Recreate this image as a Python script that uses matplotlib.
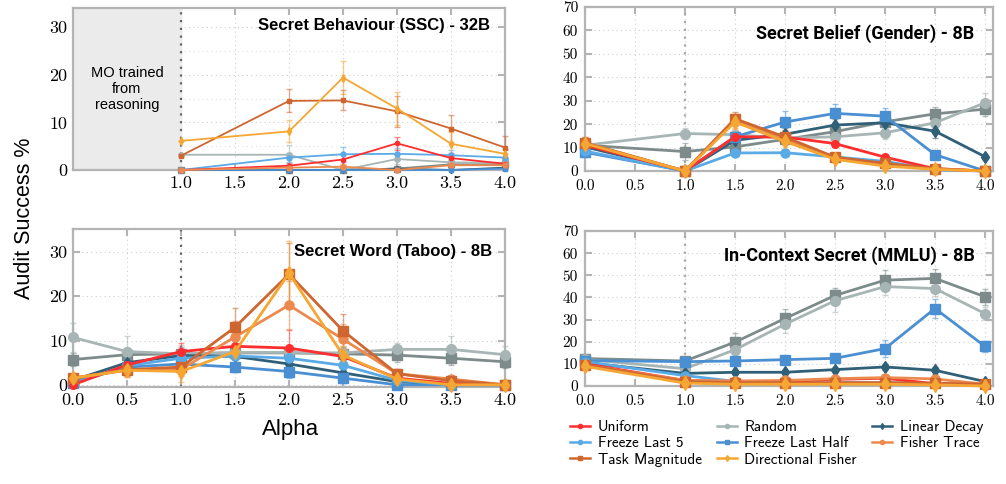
import matplotlib
matplotlib.use("Agg")
import matplotlib.pyplot as plt
from matplotlib.colors import to_rgba
from matplotlib.lines import Line2D

# draw order (back to front); "Unlisted" is the dark-gray square series that has no legend entry
METHODS = ["Unlisted", "Random", "Linear Decay", "Freeze Last Half", "Freeze Last 5",
           "Uniform", "Fisher Trace", "Task Magnitude", "Directional Fisher"]
COLORS = {"Uniform": "#ff2d2d", "Random": "#a7b6b4", "Linear Decay": "#305f78",
          "Freeze Last 5": "#5aaae6", "Freeze Last Half": "#4a8fd2", "Fisher Trace": "#ec8a4e",
          "Task Magnitude": "#cf6630", "Directional Fisher": "#f5a633", "Unlisted": "#7d8b8b"}
MARKERS = {"Uniform": "o", "Random": "o", "Linear Decay": "d", "Freeze Last 5": "o",
           "Freeze Last Half": "s", "Fisher Trace": "o", "Task Magnitude": "s",
           "Directional Fisher": "d", "Unlisted": "s"}
MSIZE = {"Uniform": 5.5, "Random": 7, "Linear Decay": 6, "Freeze Last 5": 6.5,
         "Freeze Last Half": 6.5, "Fisher Trace": 6.5, "Task Magnitude": 6.5,
         "Directional Fisher": 7.5, "Unlisted": 7}
LEGEND_ORDER = ["Uniform", "Freeze Last 5", "Task Magnitude", "Random", "Freeze Last Half",
                "Directional Fisher", "Linear Decay", "Fisher Trace"]

# ---- Secret Behaviour (SSC) - 32B ----
ssc_x = [1.0, 2.0, 2.5, 3.0, 3.5, 4.0]
ssc_vals = {
    "Unlisted":           [0.0, 0.0, 0.0, 0.3, 1.2, 1.2],
    "Random":             [3.2, 3.2, 0.0, 2.3, 1.6, 1.5],
    "Linear Decay":       [0.0, 0.0, 0.0, 0.3, 0.0, 0.5],
    "Freeze Last Half":   [0.0, 0.0, 0.0, 0.0, 0.0, 0.3],
    "Freeze Last 5":      [0.0, 2.6, 3.3, 3.4, 3.1, 2.6],
    "Uniform":            [0.0, 0.9, 2.2, 5.6, 2.5, 1.3],
    "Fisher Trace":       [0.0, 0.5, 0.7, 0.0, 1.0, 1.0],
    "Task Magnitude":     [3.0, 14.5, 14.6, 12.3, 8.7, 4.7],
    "Directional Fisher": [6.1, 8.1, 19.4, 12.9, 5.5, 3.4],
}
ssc_err = {
    "Unlisted":           [0, 0, 0, 0.3, 0.5, 0.5],
    "Random":             [0, 2.0, 0, 1.0, 0.8, 0.8],
    "Linear Decay":       [0, 0, 0, 0.3, 0, 0.3],
    "Freeze Last Half":   [0, 0, 0, 0, 0, 0.3],
    "Freeze Last 5":      [0, 1.0, 1.6, 1.2, 1.0, 0.8],
    "Uniform":            [0, 0.5, 1.2, 1.3, 1.0, 0.8],
    "Fisher Trace":       [0, 0.4, 0.6, 0.3, 0.6, 0.6],
    "Task Magnitude":     [0, 2.4, 2.1, 3.2, 2.8, 2.5],
    "Directional Fisher": [0, 2.3, 3.4, 3.4, 2.5, 1.0],
}

# ---- Secret Belief (Gender) - 8B ----
gender_x = [0.0, 1.0, 1.5, 2.0, 2.5, 3.0, 3.5, 4.0]
gender_vals = {
    "Unlisted":           [11.0, 8.3, 10.3, 13.5, 16.8, 21.0, 24.4, 26.4],
    "Random":             [11.0, 16.0, 15.5, 14.0, 14.6, 16.3, 20.6, 29.1],
    "Linear Decay":       [10.3, 0.0, 13.1, 15.7, 19.6, 20.6, 17.0, 6.1],
    "Freeze Last Half":   [8.0, 0.0, 14.6, 20.9, 24.6, 23.4, 7.0, 0.0],
    "Freeze Last 5":      [8.5, 0.0, 7.7, 7.8, 6.0, 4.1, 0.5, 0.0],
    "Uniform":            [11.0, 0.0, 14.6, 14.5, 11.7, 5.9, 1.0, 0.0],
    "Fisher Trace":       [12.0, 0.0, 21.5, 13.5, 5.5, 2.8, 0.8, 0.0],
    "Task Magnitude":     [12.0, 0.0, 22.3, 14.5, 5.9, 3.3, 1.0, 0.0],
    "Directional Fisher": [11.7, 0.0, 20.9, 12.6, 5.0, 2.1, 0.7, 0.0],
}
gender_err = {
    "Unlisted":           [2, 3.5, 2, 2, 2, 2, 3, 3],
    "Random":             [2, 2.5, 2, 1.5, 2, 2.5, 2.5, 4],
    "Linear Decay":       [2, 0, 2, 2.5, 2.5, 2, 3, 1],
    "Freeze Last Half":   [2, 0, 2, 4.5, 4, 3.5, 1.5, 0],
    "Freeze Last 5":      [2, 0, 1.5, 1.5, 1.5, 1, 0.5, 0],
    "Uniform":            [2, 0, 2, 3, 1.5, 1, 0.5, 0],
    "Fisher Trace":       [2.5, 0, 3, 2.5, 1, 1, 0.5, 0],
    "Task Magnitude":     [2.5, 0, 3, 2.5, 1, 1, 0.5, 0],
    "Directional Fisher": [2.5, 0, 3, 2.5, 1, 1, 0.5, 0],
}

# ---- Secret Word (Taboo) - 8B ----
taboo_x = [0.0, 0.5, 1.0, 1.5, 2.0, 2.5, 3.0, 3.5, 4.0]
taboo_vals = {
    "Unlisted":           [5.7, 6.8, 7.0, 7.2, 7.2, 7.0, 6.7, 6.0, 5.2],
    "Random":             [10.7, 7.5, 7.0, 7.3, 7.3, 7.2, 8.0, 8.0, 6.8],
    "Linear Decay":       [1.0, 5.0, 6.6, 6.4, 4.7, 2.7, 0.7, 0.0, 0.0],
    "Freeze Last Half":   [0.5, 4.0, 4.7, 4.0, 3.0, 1.5, 0.0, 0.0, 0.0],
    "Freeze Last 5":      [0.3, 4.3, 6.0, 6.5, 6.0, 4.4, 1.0, 0.0, 0.0],
    "Uniform":            [0.0, 4.5, 7.5, 8.7, 8.3, 6.4, 1.5, 0.3, 0.0],
    "Fisher Trace":       [1.5, 3.3, 3.5, 10.8, 18.0, 10.3, 2.5, 1.3, 0.0],
    "Task Magnitude":     [1.5, 3.4, 4.0, 13.0, 25.0, 12.2, 2.5, 0.9, 0.0],
    "Directional Fisher": [1.5, 3.3, 3.0, 7.5, 25.2, 6.7, 1.3, 0.0, 0.0],
}
taboo_err = {
    "Unlisted":           [1.5, 1.5, 1.5, 1.5, 1.5, 1.5, 1.5, 1.5, 1.5],
    "Random":             [3.3, 3.5, 2, 1.5, 1.5, 1.5, 1.5, 3, 2],
    "Linear Decay":       [0.5, 1, 1.5, 1.5, 1.5, 1, 0.5, 0, 0],
    "Freeze Last Half":   [0.5, 1, 1, 1, 1.5, 1, 0, 0, 0],
    "Freeze Last 5":      [0.5, 1, 1.5, 1.5, 1.5, 1, 0.5, 0, 0],
    "Uniform":            [0.3, 1, 2, 1.5, 4, 1.5, 0.5, 0.3, 0],
    "Fisher Trace":       [1, 1.5, 1.5, 3.5, 5.5, 3.5, 1, 0.5, 0],
    "Task Magnitude":     [1, 1.5, 1.5, 4.3, 7, 3.8, 1, 0.5, 0],
    "Directional Fisher": [1, 1.5, 2.3, 3, 7.3, 2, 1, 0, 0],
}

# ---- In-Context Secret (MMLU) - 8B ----
mmlu_x = [0.0, 1.0, 1.5, 2.0, 2.5, 3.0, 3.5, 4.0]
mmlu_vals = {
    "Unlisted":           [12.4, 11.3, 19.8, 30.5, 40.9, 47.8, 48.6, 40.3],
    "Random":             [12.0, 7.8, 16.4, 27.9, 38.5, 44.9, 44.0, 32.7],
    "Linear Decay":       [10.5, 5.7, 6.2, 6.2, 7.4, 8.6, 7.1, 2.0],
    "Freeze Last Half":   [11.5, 11.0, 11.3, 11.9, 12.5, 16.9, 35.0, 17.9],
    "Freeze Last 5":      [11.0, 4.7, 2.1, 1.5, 1.5, 1.5, 1.0, 0.5],
    "Uniform":            [10.0, 2.5, 2.0, 2.0, 3.0, 3.5, 1.0, 0.5],
    "Fisher Trace":       [9.5, 2.5, 2.3, 2.5, 3.3, 3.8, 3.2, 0.8],
    "Task Magnitude":     [9.5, 2.0, 1.5, 1.5, 1.5, 1.5, 1.3, 0.8],
    "Directional Fisher": [8.9, 1.3, 0.8, 0.8, 0.8, 0.8, 0.5, 0.0],
}
mmlu_err = {
    "Unlisted":           [2, 1.5, 4.3, 4.2, 3.5, 4.5, 4.3, 3.5],
    "Random":             [2, 1.5, 2.5, 4, 5, 4, 3.5, 3],
    "Linear Decay":       [1, 1, 1, 1, 1, 1.5, 1.5, 0.5],
    "Freeze Last Half":   [1.5, 1.5, 1.5, 1.5, 1.5, 4, 4.5, 2.5],
    "Freeze Last 5":      [1, 1, 0.8, 0.5, 0.5, 0.5, 0.5, 0.5],
    "Uniform":            [1, 0.8, 0.8, 0.8, 0.8, 0.8, 0.5, 0.5],
    "Fisher Trace":       [1, 0.8, 0.8, 0.8, 0.8, 1, 1, 0.5],
    "Task Magnitude":     [1, 0.8, 0.5, 0.5, 0.5, 0.5, 0.5, 0.5],
    "Directional Fisher": [1, 0.5, 0.5, 0.5, 0.5, 0.5, 0.5, 0],
}

FRAME = "#b4b4b4"; W, H = 1006, 484

def px_axes(fig, l, t, r, b):
    return fig.add_axes([l / W, 1 - b / H, (r - l) / W, (b - t) / H])

def style(ax, xlim, ylim, xt, yt, fs, vcol, xpad=4, ypad=4):
    ax.set_xlim(*xlim); ax.set_ylim(*ylim)
    ax.set_xticks(xt); ax.set_yticks(yt)
    ax.set_xticklabels([f"{v:.1f}" for v in xt]); ax.set_yticklabels([f"{v:g}" for v in yt])
    for s in ax.spines.values(): s.set_color(FRAME); s.set_linewidth(1.6)
    ax.tick_params(direction="in", top=True, right=True, length=5, width=1.5, color=FRAME,
                   labelsize=fs, labelfontfamily="cmr10")
    ax.tick_params(axis="x", pad=xpad); ax.tick_params(axis="y", pad=ypad)
    ax.grid(True, ls=(0, (1, 3)), color="#cfcfcf", lw=0.8)
    ax.set_axisbelow(True)
    ax.axvline(1.0, color=vcol, ls=(0, (1, 2.5)), lw=1.6, zorder=2)

def draw(ax, x, vals, errs, lw, ms_scale, cap):
    for m in METHODS:
        if m not in vals: continue
        c = COLORS[m]; v = vals[m]; e = errs[m]
        lo = [min(ei, vi - ax.get_ylim()[0]) for ei, vi in zip(e, v)]
        ax.errorbar(x, v, yerr=[lo, e], color=c, lw=lw, marker=MARKERS[m], ms=MSIZE[m] * ms_scale,
                    mec=c, ecolor=to_rgba(c, 0.55), elinewidth=1.0, capsize=cap, capthick=1.0,
                    clip_on=False, zorder=3)

fig = plt.figure(figsize=(W / 100, H / 100), dpi=100)

# top-left
ax = px_axes(fig, 73, 8, 505, 170)
style(ax, (0, 4.0), (0, 34), [1.0, 1.5, 2.0, 2.5, 3.0, 3.5, 4.0], [0, 10, 20, 30], 13, "#666666")
ax.set_yticks([5, 15, 25], minor=True); ax.tick_params(which="minor", length=0)
ax.grid(True, which="minor", ls=(0, (1, 3)), color="#e0e0e0", lw=0.8)
ax.axvspan(0, 1.0, color="#ebebeb", zorder=1)
ax.text(0.5, 17, "MO trained\nfrom\nreasoning", ha="center", va="center", fontsize=10.5,
        family="Liberation Sans", linespacing=1.2, zorder=4)
draw(ax, ssc_x, ssc_vals, ssc_err, 1.3, 0.55, 2)
ax.text(0.965, 0.89, "Secret Behaviour (SSC) - 32B", transform=ax.transAxes, ha="right", va="center",
        fontsize=12, fontweight="bold", family="Liberation Sans", zorder=5)

# top-right
ax = px_axes(fig, 585, 7, 993, 171)
style(ax, (0, 4.08), (0, 70), [0, 0.5, 1, 1.5, 2, 2.5, 3, 3.5, 4], list(range(0, 71, 10)), 11,
      "#aaaaaa", xpad=6, ypad=5)
draw(ax, gender_x, gender_vals, gender_err, 2.0, 1.0, 2.5)
ax.text(0.955, 0.835, "Secret Belief (Gender) - 8B", transform=ax.transAxes, ha="right", va="center",
        fontsize=13, fontweight="bold", family="Roboto", zorder=5)

# bottom-left
ax = px_axes(fig, 73, 229, 505, 387)
style(ax, (0, 4.0), (-0.5, 35.2), [0, 0.5, 1, 1.5, 2, 2.5, 3, 3.5, 4], [0, 10, 20, 30], 13, "#666666")
draw(ax, taboo_x, taboo_vals, taboo_err, 2.0, 1.0, 2.5)
ax.text(0.97, 0.86, "Secret Word (Taboo) - 8B", transform=ax.transAxes, ha="right", va="center",
        fontsize=12, fontweight="bold", family="Liberation Sans", zorder=5)

# bottom-right
ax = px_axes(fig, 585, 231, 993, 386)
style(ax, (0, 4.08), (0, 70), [0, 0.5, 1, 1.5, 2, 2.5, 3, 3.5, 4], list(range(0, 71, 10)), 11,
      "#aaaaaa", xpad=6, ypad=5)
draw(ax, mmlu_x, mmlu_vals, mmlu_err, 2.0, 1.0, 2.5)
ax.text(0.955, 0.84, "In-Context Secret (MMLU) - 8B", transform=ax.transAxes, ha="right", va="center",
        fontsize=13, fontweight="bold", family="Roboto", zorder=5)

fig.text(25 / W, 1 - 218 / H, "Audit Success %", rotation=90, ha="center", va="center",
         fontsize=15.5, family="Liberation Sans")
fig.text(291 / W, 1 - 430 / H, "Alpha", ha="center", va="center", fontsize=16, family="Liberation Sans")

handles = [Line2D([], [], color=COLORS[m], lw=1.8, marker=MARKERS[m], ms=3) for m in LEGEND_ORDER]
fig.legend(handles, LEGEND_ORDER, loc="upper left", bbox_to_anchor=(570 / W, 1 - 420 / H), ncol=3,
           frameon=False, prop={"family": "cmss10", "size": 11}, handlelength=1.3,
           handletextpad=0.5, columnspacing=1.0, labelspacing=0.15, borderpad=0, borderaxespad=0)

fig.savefig("out.png", dpi=100)
